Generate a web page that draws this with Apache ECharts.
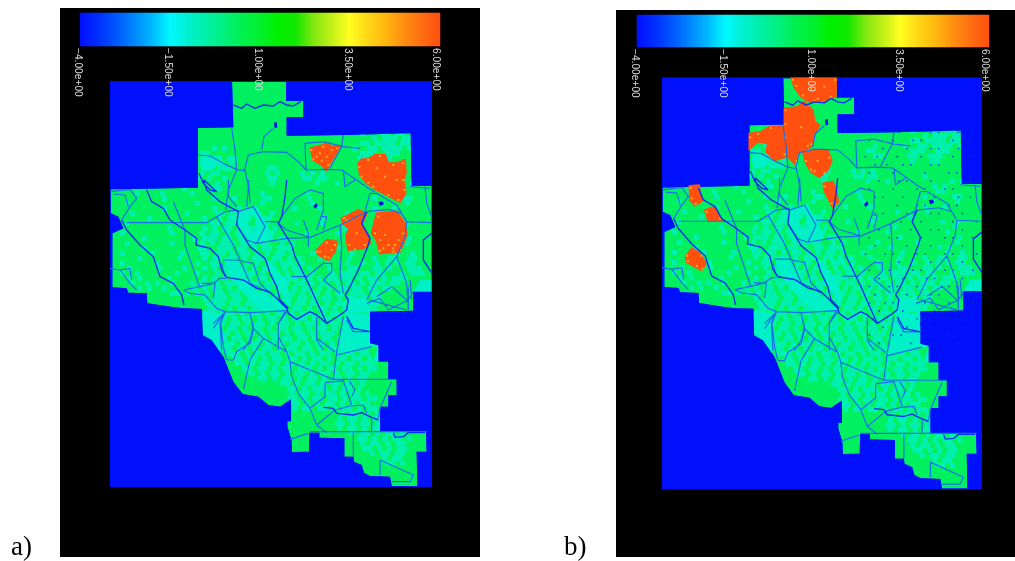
<!DOCTYPE html>
<html><head><meta charset="utf-8">
<style>html,body{margin:0;padding:0;background:#fff}#c{width:1015px;height:561px}</style>
<script src="https://cdn.jsdelivr.net/npm/echarts@6/dist/echarts.min.js"></script>
</head><body><div id="c"></div>
<script>
// Colour bar
const tickLabels = ['\u22124.00e+00','\u22121.50e+00','1.00e+00','3.50e+00','6.00e+00'];
const rampColors = ['#0010ff','#0030ff','#0058ff','#0088ff','#00b8ff','#00f8ff','#00f0d0','#00f0a8','#00f080','#00f050','#00f030','#00f000','#10e800','#80e810','#c0f018','#ffff20','#ffd818','#ffb810','#ff9010','#ff7010','#ff5010'];
// Shared base map (map units)
const landOutline = [[516,245],[678,245],[678,302],[730,302],[730,352],[680,352],[680,407],[850,405],[1052,400],[1055,558],[1115,558],[1115,875],[1060,875],[1060,932],[930,935],[930,1030],[955,1035],[955,1085],[985,1085],[985,1138],[1010,1138],[1010,1185],[985,1185],[985,1220],[960,1220],[960,1295],[1098,1295],[1100,1355],[1070,1355],[1072,1458],[995,1458],[990,1430],[930,1428],[912,1418],[905,1395],[882,1385],[880,1370],[853,1370],[853,1315],[778,1313],[778,1298],[748,1298],[747,1355],[696,1356],[694,1318],[688,1300],[682,1280],[682,1264],[693,1264],[693,1198],[660,1220],[625,1215],[595,1190],[548,1182],[520,1145],[490,1070],[455,1020],[428,1005],[426,927],[372,925],[342,922],[262,910],[260,880],[205,878],[200,865],[157,862],[157,700],[190,685],[175,650],[152,640],[152,568],[414,563],[414,384],[520,382]];
const shift = l => l.map(([x,y])=>[x+150,y+540]);
const cyanPatches = [
 [[540,630],[590,617],[625,680],[640,715],[590,735],[560,710],[530,660]],
 [[855,940],[925,940],[930,1030],[950,1040],[885,1055],[835,1065],[850,970]],
 [[860,900],[920,890],[930,935],[860,940]],
 [[1080,840],[1115,840],[1115,875],[1060,875]],
 [[430,930],[480,940],[490,1010],[480,1060],[430,1000]],
 [[955,1035],[985,1085],[940,1085]],
 [[420,470],[480,480],[460,510],[425,510]],
 shift([[340,230],[385,250],[430,330],[470,345],[500,360],[530,392],[460,396],[400,340],[360,290]]),
 shift([[275,395],[330,400],[335,510],[300,510],[280,470]]),
 shift([[470,240],[500,320],[545,385],[530,300]])
];
const greenPatches = [[[565,645],[585,650],[590,690],[575,695],[565,675]]];
const centralRoads = [
 [[0,35],[60,28],[80,55],[60,80],[35,120]],
 [[10,42],[45,45],[55,80]],
 [[50,128],[290,128],[345,95],[385,90]],
 [[190,65],[225,150],[225,195],[268,320]],
 [[320,110],[370,195],[390,240],[420,310],[480,340]],
 [[385,95],[430,80],[465,140],[440,190],[410,180],[380,135]],
 [[440,190],[530,175],[600,172],[690,135],[770,95],[835,88],[875,100],[890,125],[966,128]],
 [[465,125],[500,125],[530,150],[600,172]],
 [[515,110],[555,55],[600,30],[640,40],[640,90],[620,150]],
 [[580,120],[595,160],[595,200]],
 [[635,110],[650,110],[640,150]],
 [[755,130],[780,40],[800,40],[860,75],[875,100]],
 [[890,125],[885,170],[860,230],[800,300],[770,360]],
 [[860,230],[890,310],[895,390]],
 [[900,300],[905,360]],
 [[690,135],[695,200],[690,280],[700,340]],
 [[590,290],[640,250],[665,250],[665,275],[640,300],[690,340]],
 [[545,290],[595,290]],
 [[340,240],[380,240],[430,250],[450,310],[480,340]],
 [[335,250],[345,290]],
 [[220,330],[270,320],[310,310],[330,295],[350,295]],
 [[220,330],[240,340],[285,345],[320,385],[345,395],[420,398],[530,392]],
 [[345,395],[310,445]],
 [[420,400],[430,440],[420,480],[400,510]],
 [[345,395],[330,430],[335,510]],
 [[525,395],[505,430],[505,510]],
 [[620,420],[620,480],[640,510]],
 [[0,265],[30,270],[60,310],[80,330]],
 [[30,270],[60,265],[65,300]],
 [[275,310],[315,310],[310,355]],
 [[355,0],[355,50],[380,80]],
 [[415,0],[420,70]],
 [[800,350],[845,320],[890,360]],
 [[780,360],[815,370],[890,390]],
 [[900,20],[960,25]]
];
const northRoads = [
 [[515,385],[525,450],[530,510],[505,570],[497,630]],
 [[414,465],[450,468],[490,490],[530,508],[553,512]],
 [[553,512],[565,465],[610,455],[680,457],[715,485],[738,510],[800,508],[845,510],[890,540],[925,565],[945,575]],
 [[605,450],[612,410],[640,385]],
 [[738,510],[735,430],[790,425],[850,440],[900,445]],
 [[850,405],[845,440],[810,505]],
 [[555,510],[565,560],[560,620]],
 [[850,510],[855,560],[885,540]],
 [[1095,560],[1100,610],[1115,650]]
];
const southRoads = [
 [[495,937],[460,970]],
 [[495,937],[482,970],[490,1040],[500,1080],[520,1080],[530,1055],[570,1030],[580,990],[570,937]],
 [[580,985],[610,1015],[680,1055],[690,1085],[695,1130],[715,1180],[750,1225],[770,1275],[800,1298]],
 [[610,1015],[570,1080],[550,1170]],
 [[690,1085],[750,1110],[820,1138],[1005,1138]],
 [[680,1055],[655,1010],[655,970],[680,935]],
 [[850,950],[830,1055],[820,1138]],
 [[830,1065],[935,1040]],
 [[770,950],[770,1015],[825,1055]],
 [[860,960],[880,995],[930,995]],
 [[920,910],[960,895],[985,930],[1045,900],[1060,875]],
 [[1045,860],[1045,930]],
 [[795,1150],[795,1190],[750,1225]],
 [[795,1148],[850,1142],[875,1215]],
 [[868,1142],[885,1170],[875,1190]],
 [[995,1145],[960,1225],[955,1255]],
 [[745,1300],[690,1318]],
 [[770,1275],[825,1230],[870,1218],[910,1215],[920,1240]],
 [[935,1255],[935,1295]],
 [[750,1295],[1100,1295]],
 [[880,1295],[880,1370]],
 [[960,1380],[960,1425]],
 [[960,1380],[1060,1425],[1050,1445],[995,1445]]
];
const roads = [...northRoads, ...centralRoads.map(shift), ...southRoads];
const centralRivers = [
 [[110,30],[125,65],[160,85],[180,120],[225,150],[260,175],[258,195],[300,205],[325,230],[335,270],[350,292],[400,300],[440,325],[478,335],[500,355],[530,385],[535,400],[560,418],[600,395],[620,405],[650,430],[690,405],[710,390],[715,360],[705,345]],
 [[35,120],[50,150],[90,195],[130,230],[150,290],[190,310],[215,345],[222,375]],
 [[280,0],[290,30],[330,65],[385,95],[380,135],[420,200],[465,235],[480,280],[500,320],[510,360],[535,385]],
 [[530,0],[525,50],[515,110],[505,130],[545,195],[555,230],[600,320],[620,365],[650,430]],
 [[770,95],[755,130],[780,175],[775,195],[745,270],[715,330],[705,345]],
 [[965,160],[940,180],[940,240],[966,280]],
 [[710,410],[730,445],[780,455]]
];
const otherRivers = [
 [[520,315],[545,325],[560,312],[585,325],[610,315],[640,318],[660,305],[680,315],[700,318],[722,305]],
 [[417,520],[430,550],[450,570],[470,575],[432,540]],
 [[790,1222],[820,1225],[830,1240],[880,1245],[905,1238],[930,1250],[955,1260]],
 [[1000,1298],[1005,1312],[1030,1310],[1045,1298],[1095,1298]]
];
const rivers = [...otherRivers, ...centralRivers.map(shift)];
const lakes = [
 [[642,368],[650,366],[652,382],[644,385]],
 [[760,618],[770,608],[773,618],[765,626]],
 [[955,606],[968,604],[972,613],[960,618]]
];
// Orange burn patches
const orangeA = [
 [[752,445],[790,435],[800,428],[815,440],[840,438],[825,465],[810,490],[800,510],[785,495],[760,480]],
 [[895,490],[905,478],[925,478],[945,465],[975,465],[985,490],[1010,490],[1035,480],[1037,520],[1030,540],[1037,575],[1030,590],[1020,605],[990,590],[950,570],[920,550],[900,525]],
 shift([[695,115],[745,90],[770,100],[755,135],[775,165],[780,190],[760,205],[715,210],[708,170],[718,145],[700,132]]),
 shift([[800,100],[860,95],[885,130],[890,165],[870,215],[810,220],[800,180],[785,160]]),
 shift([[620,210],[650,180],[680,185],[675,215],[655,240],[625,225]])
];
const orangeB = [
 [[540,243],[676,243],[674,300],[640,310],[600,316],[570,300],[550,272]],
 [[520,335],[560,330],[580,315],[605,340],[610,374],[625,384],[612,409],[600,448],[560,468],[550,497],[530,477],[520,409]],
 [[414,409],[450,404],[475,389],[515,387],[525,477],[490,487],[465,463],[470,438],[440,432],[414,453]],
 [[575,463],[610,458],[650,458],[662,488],[650,517],[625,537],[600,522],[585,497]],
 [[637,556],[665,551],[675,576],[682,611],[665,626],[650,596],[640,576]],
 [[233,564],[262,562],[265,591],[272,606],[250,621],[235,606]],
 [[280,635],[310,625],[330,665],[290,665]],
 [[222,773],[240,748],[265,763],[282,793],[270,812],[250,803],[225,788]]
];
const speckA = [[754,450],[770,470],[790,440],[815,450],[805,495],[785,482],[832,445],[760,478],[780,460],[800,470],[898,500],[925,480],[960,468],[1000,495],[1030,490],[1030,540],[1015,600],[985,585],[940,560],[905,530],[925,548],[1034,570],[1010,540],[975,530],[950,505],[852,655],[860,662],[885,748],[868,735],[915,735],[890,700],[955,650],[970,745],[960,752],[1000,755],[1020,750],[1030,700],[1000,745],[945,700],[985,735],[1005,735],[960,720],[975,705],[1015,720],[800,728],[780,755],[825,735],[805,772],[772,755],[795,770],[815,750]];
const speckB = [[545,250],[555,268],[575,296],[620,306],[660,300],[672,250],[610,312],[640,270],[600,275],[523,340],[590,325],[600,440],[522,420],[523,380],[556,490],[590,445],[570,390],[416,420],[440,410],[480,392],[520,470],[480,484],[585,490],[600,515],[655,480],[610,520],[640,525],[620,490],[640,565],[662,615],[236,570],[252,617],[240,600],[285,640],[325,660],[226,770],[255,800],[272,808],[228,785],[268,770]];
// Cyan mottling, one row per line, "#" is a cyan cell
const mottleRows = [
"..................................................#...##.##......",
"....................................................#.###.##.....",
"..................................................##.####.##.....",
"....................#.#...................#.....#..##.####.#......",
"..................##.....................##.......###..###........",
"..................####.##.................##.....##..###..........",
"..................#####.#.........................#...##..........",
"..................##.###.......##................................",
"..................#.##.........#.#....#.#.#......................",
".................#.#..#........##.....##.##.........#............",
".....................#..........#........#...#............#.#....",
"..#...........#.....##................................#.#........",
".....#....#.....#.............#........#...............##........",
"..........#.........#...#.....##.......#............#.....##.....",
"...#.............#.....#......#.........#.............#....#.....",
"..........#.........#....#..#.......#....#..........#...#........",
"....#..........#.....##.###.....#..............#.....#...........",
".......#..........#..#.##.##..##..........#......#...............",
"...#.........#......##.####..#.#.....#....#.............#..#.....",
"...........#......#.#.##.#.##.#.#.............#...........#......",
"..#.........#.....#.##.#.##.#.###......#.....#...........#.......",
"......#.........#.###.##.###.#.#.##............#...........#.....",
"...#........#.....#.#.###.###.##..#.#......#.......#.......#.....",
"......#..........##..###.##.#.##.###.....#...#.........#.#.......",
"..#.....#.....#...##.##.#.##.#.#.##.#...#.......#........#..#....",
".....#.......#....#.##.##.#.###.##.#.#...#.....#....#..##..##....",
"..#......#.......#..##.###.#.#.##.###.#....#...#..#..#.#.#.##....",
"...#.....#....#...#.#.##.##.#.###.#.##.#...#...##...##.#...###...",
"..#..#.......#...#...#.##.###.#.##.#.##.#...#.###.##.##...#.###..",
"...#.#.....#......#.#.#.##.#.##.#.###.##.#.##.##.#.##.#.###......",
"....#..#.#..#...#.#..#.##.#.##.###.#.##.#.##.#.##.#.###.##.......",
".....#.#..#.....#.#.##.#.##.#.##.##.#.##.#.#.##.##.##.##.........",
"............##.#.#.#.##.##.#.###.#.##.#.##.#.##.###.##...........",
"..................#.###.##.#.##.#.##.##.#.##.#.##.#.##...........",
"...................####.##.##.#.##.#.##.##.#.####.#.##...........",
"...................###.#.##.##.#.##.##.#.##.#.####.##............",
"...................##.###.#.##.#.##.#.###.#.##.###.#.............",
"...................####.#.##.#.##.#.###.#.##.#.#####.............",
"....................###.##.#.##.#.##.#.##.#.##.####..............",
"....................##.##.#.##.#.##.##.#.##.#.##.###.............",
".....................###.#.##.#.##.#.##.#.###.#.##.##............",
".....................##.##.#.##.#.##.##.#.##.##.#.##.............",
"......................###.#.##.##.#.##.#.##.#.##.###.............",
"......................##.##.#.##.#.##.##.#.###.#.##..............",
".......................###.#.##.##.#.##.#.##.#.##.##.............",
"........................##.##.#.##.##.#.##.#.##.##.#.............",
".........................##.#.##.#.##.#.#.##.#.##.###............",
"..........................##.##.#.##.###.#.##.##.#.##............",
"...........................##.#.##.#.##.#.##.#.##.##.............",
".............................##.#.##.#.##.#.##.#.##..............",
"..................................##.#.##.#.##.##.#..............",
"...................................##.#.###.#.##.#...............",
"....................................#.##.#.##.#.##.#.............",
"...................................##.#.##.##.#.##.##............",
"....................................##.#.#.##.#.#.##.............",
"....................................#.##.##.#.##.#.##............",
"..............................................#.##.#.##.#.##.....",
".............................................#.##.#.##.#.##.#....",
".............................................##.#.##.#.#.##.#....",
".............................................#.##.#.##.##.#.##...",
"................................................#.##.#.##.#......",
".................................................##.#.#.##.#......",
"..................................................#.##.#.##.......",
"..................................................##.#.#.##.......",
"....................................................#.##.##......",
"......................................................#.##.......",
".......................................................##.#......"
];
// Dark stipple in the east of panel b, one row per line, "*" is a dot
const stippleRows = [
".....*....*.......*.*....*....",
"..*.....*....*.*.......*...*..",
"......*.....*.....*.*....*....",
".*..*....*.....*.......*...*..",
"....*..*...*.*....*.*.....*...",
"..*.....*.......*.....*.*.....",
".....*....*.*.....*.......*.*.",
"..*.....*.....*.*....*.*......",
"....*.*....*.......*.....*..*.",
".*.......*....*.*.....*.*.....",
"....*.*.....*.....*.*.....*...",
"..*.....*.*....*.......*.....*",
".....*.......*....*.*.....*...",
"..*....*.*.....*.....*.*....*.",
"....*.......*.....*.......*...",
".*....*.*.....*.*....*.*.....*",
"....*.....*.......*.......*...",
"..*....*.....*.*.....*.*....*.",
".....*.....*.....*.*......*...",
"..*....*.*....*.......*.*.....",
"....*.......*.....*.*.....*...",
"..*...*.*.....*.*.....*.....*.",
".....*.....*.......*......*...",
"...*....*.....*.*.....*.*.....",
"......*.....*.....*.......*...",
"..*.....*.*.....*.....*.......",
".....*.......*.....*.....*...."
];

function cellsFrom(rows, mark, x0, y0, dx, dy){
  const out=[];
  rows.forEach((r,j)=>{ for(let i=0;i<r.length;i++) if(r[i]===mark) out.push([x0+i*dx+(j%2?7:0),y0+j*dy]); });
  return out;
}
const mottle = cellsFrom(mottleRows,'#',157,400,15,15);
const stipple = cellsFrom(stippleRows,'*',745,405,12,24);
const seaPoly = [[150,243],[150,1461],[1116,1461],[1116,243],[150,243],...landOutline,landOutline[0],[150,243]];
function joinLines(ls){ const o=[]; ls.forEach(l=>{ l.forEach(p=>o.push(p)); o.push(['-','-']); }); return o; }

function barOf(n){
  const cats=[],cells=[];
  for(let i=0;i<n;i++){ cats.push(i); cells.push([i,0,-4+10*i/(n-1)]); }
  return {cats,cells};
}
const panels=[
 {back:{left:60,top:8,width:420,height:549}, map:{left:110,top:81,width:322,height:406}, bar:{left:80,top:13,width:360,height:33}, cells:180, orange:orangeA, speck:speckA, stipple:[]},
 {back:{left:616,top:10,width:399,height:547}, map:{left:662,top:77.5,width:320,height:412}, bar:{left:637,top:15,width:352,height:32}, cells:176, orange:orangeB, speck:speckB, stipple:stipple}
];
const grid=[], xAxis=[], yAxis=[], series=[];
function polySeries(polys,color,z,xi,stroke){
  return {type:'custom',xAxisIndex:xi,yAxisIndex:xi,z,silent:true,clip:true,
    data:polys.map((p,i)=>[p[0][0],p[0][1],i]),encode:{x:0,y:1},
    renderItem:(params,api)=>({type:'polygon',shape:{points:polys[api.value(2)].map(q=>api.coord(q))},style:{fill:color,stroke:stroke?color:null,lineWidth:stroke||0}})};
}
panels.forEach(p=>{
  grid.push({...p.back,show:true,backgroundColor:'#000',borderWidth:0,z:0});
  xAxis.push({gridIndex:grid.length-1,type:'value',show:false});
  yAxis.push({gridIndex:grid.length-1,type:'value',show:false});
  grid.push({...p.map,show:true,backgroundColor:'#0010fb',borderWidth:0,z:1});
  const m=xAxis.length;
  xAxis.push({gridIndex:grid.length-1,type:'value',min:150,max:1116,show:false});
  yAxis.push({gridIndex:grid.length-1,type:'value',min:243,max:1461,inverse:true,show:false});
  grid.push({...p.bar,show:false});
  const b=xAxis.length, bar=barOf(p.cells), st=p.cells/4;
  const tickIdx=i=>(i===p.cells-1)?4:(i%st===0?i/st:-1);
  xAxis.push({gridIndex:grid.length-1,type:'category',data:bar.cats,z:50,
    axisLine:{show:false},axisTick:{show:false},splitLine:{show:false},
    axisLabel:{interval:i=>tickIdx(i)>=0,rotate:-90,verticalAlign:'top',lineHeight:7,margin:2,color:'#dcdcdc',fontSize:10.2,
      fontFamily:'Liberation Sans',hideOverlap:false,showMinLabel:true,showMaxLabel:true,
      formatter:(v)=>tickLabels[tickIdx(Number(v))]||''}});
  yAxis.push({gridIndex:grid.length-1,type:'category',data:['bar'],show:false});
  series.push({type:'heatmap',xAxisIndex:b,yAxisIndex:b,data:bar.cells,silent:true,z:2,progressive:0});
  series.push(polySeries([landOutline],'#00f060',2,m));
  series.push(polySeries(cyanPatches,'#00f0c8',2,m));
  series.push(polySeries(greenPatches,'#00f060',3,m));
  series.push({type:'scatter',xAxisIndex:m,yAxisIndex:m,data:mottle,symbol:'rect',symbolSize:5,silent:true,z:3,
    itemStyle:{color:'#00f0c8'},progressive:0});
  series.push(polySeries([seaPoly],'#0010fb',4,m));
  series.push(polySeries(p.orange,'#ff5010',5,m,2));
  series.push({type:'scatter',xAxisIndex:m,yAxisIndex:m,data:p.speck,symbol:'rect',symbolSize:2,silent:true,z:6,
    itemStyle:{color:'#e8c820'},progressive:0});
  if(p.stipple.length) series.push({type:'scatter',xAxisIndex:m,yAxisIndex:m,data:p.stipple,symbol:'rect',symbolSize:1.6,silent:true,z:6,
    itemStyle:{color:'#0030d0'},progressive:0});
  series.push({type:'line',xAxisIndex:m,yAxisIndex:m,data:joinLines(roads),showSymbol:false,symbol:'none',silent:true,z:7,connectNulls:false,
    lineStyle:{color:'#1a70e8',width:1.2}});
  series.push({type:'line',xAxisIndex:m,yAxisIndex:m,data:joinLines(rivers),showSymbol:false,symbol:'none',silent:true,z:8,connectNulls:false,
    lineStyle:{color:'#0a30f0',width:1.4}});
  series.push(polySeries(lakes,'#0010e0',9,m));
});
const chart=echarts.init(document.getElementById('c'),null,{renderer:'canvas'});
chart.setOption({
  animation:false,backgroundColor:'#fff',grid,xAxis,yAxis,series,
  tooltip:{show:false},
  visualMap:{show:false,type:'continuous',min:-4,max:6,dimension:2,seriesIndex:series.map((s,i)=>s.type==='heatmap'?i:-1).filter(i=>i>=0),inRange:{color:rampColors}},
  title:[
   {text:'a)',left:11,top:534,textStyle:{fontFamily:'Liberation Serif',fontWeight:'normal',fontSize:27,color:'#000'},padding:0},
   {text:'b)',left:564,top:534,textStyle:{fontFamily:'Liberation Serif',fontWeight:'normal',fontSize:27,color:'#000'},padding:0}
  ]
});
</script></body></html>
